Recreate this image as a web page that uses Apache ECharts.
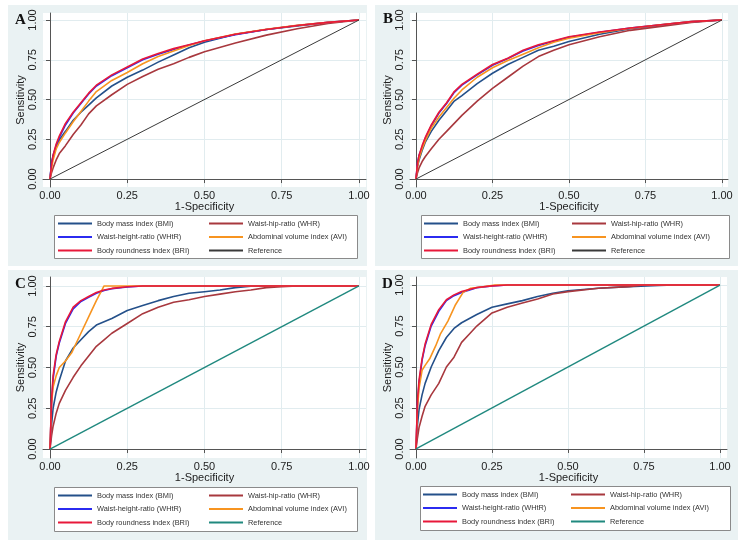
<!DOCTYPE html>
<html>
<head>
<meta charset="utf-8">
<script src="https://cdn.jsdelivr.net/npm/echarts@6/dist/echarts.min.js"></script>
<style>
  body { margin: 0; background: #fff; }
  #chart { width: 743px; height: 549px; }
</style>
</head>
<body>
<div id="chart"></div>
<script>
  // ROC points [1-specificity, sensitivity]
  const A_BMI  = [[0,0],[0.005,0.1],[0.01,0.14],[0.02,0.2],[0.03,0.245],[0.05,0.30],[0.075,0.37],[0.1,0.42],[0.125,0.465],[0.15,0.51],[0.2,0.585],[0.25,0.64],[0.3,0.685],[0.35,0.735],[0.4,0.78],[0.45,0.825],[0.5,0.86],[0.6,0.91],[0.7,0.94],[0.8,0.963],[0.9,0.984],[1,1]];
  const A_WHR  = [[0,0],[0.005,0.04],[0.01,0.07],[0.02,0.12],[0.03,0.16],[0.05,0.21],[0.075,0.28],[0.1,0.34],[0.125,0.41],[0.15,0.46],[0.2,0.53],[0.25,0.595],[0.3,0.645],[0.35,0.69],[0.4,0.725],[0.45,0.765],[0.5,0.80],[0.6,0.855],[0.7,0.905],[0.8,0.945],[0.9,0.978],[1,1]];
  const A_WHtR = [[0,0],[0.005,0.1],[0.01,0.15],[0.02,0.21],[0.03,0.26],[0.05,0.34],[0.075,0.415],[0.1,0.475],[0.125,0.535],[0.15,0.585],[0.2,0.65],[0.25,0.70],[0.3,0.75],[0.35,0.785],[0.4,0.815],[0.45,0.843],[0.5,0.868],[0.6,0.908],[0.7,0.94],[0.8,0.965],[0.9,0.985],[1,1]];
  const A_AVI  = [[0,0],[0.005,0.07],[0.01,0.12],[0.02,0.19],[0.03,0.23],[0.05,0.29],[0.075,0.36],[0.1,0.425],[0.125,0.49],[0.15,0.55],[0.2,0.62],[0.25,0.67],[0.3,0.725],[0.35,0.77],[0.4,0.805],[0.45,0.84],[0.5,0.87],[0.6,0.912],[0.7,0.942],[0.8,0.966],[0.9,0.985],[1,1]];
  const A_BRI  = [[0,0],[0.005,0.09],[0.01,0.15],[0.02,0.22],[0.03,0.27],[0.05,0.35],[0.075,0.42],[0.1,0.48],[0.125,0.54],[0.15,0.59],[0.2,0.655],[0.25,0.705],[0.3,0.755],[0.35,0.79],[0.4,0.82],[0.45,0.845],[0.5,0.87],[0.6,0.91],[0.7,0.94],[0.8,0.965],[0.9,0.985],[1,1]];

  const B_BMI  = [[0,0],[0.005,0.08],[0.01,0.12],[0.02,0.18],[0.03,0.23],[0.05,0.30],[0.075,0.37],[0.1,0.43],[0.125,0.49],[0.15,0.525],[0.2,0.60],[0.25,0.665],[0.3,0.72],[0.35,0.765],[0.4,0.81],[0.45,0.835],[0.5,0.865],[0.6,0.91],[0.7,0.945],[0.8,0.968],[0.9,0.988],[1,1]];
  const B_WHR  = [[0,0],[0.005,0.04],[0.01,0.07],[0.02,0.11],[0.03,0.14],[0.05,0.19],[0.075,0.25],[0.1,0.30],[0.125,0.35],[0.15,0.40],[0.2,0.49],[0.25,0.57],[0.3,0.64],[0.35,0.71],[0.4,0.77],[0.45,0.81],[0.5,0.845],[0.6,0.895],[0.7,0.935],[0.8,0.96],[0.9,0.985],[1,1]];
  const B_WHtR = [[0,0],[0.005,0.1],[0.01,0.15],[0.02,0.2],[0.03,0.255],[0.05,0.335],[0.075,0.415],[0.1,0.475],[0.125,0.545],[0.15,0.59],[0.2,0.655],[0.25,0.715],[0.3,0.758],[0.35,0.805],[0.4,0.84],[0.45,0.866],[0.5,0.892],[0.6,0.923],[0.7,0.949],[0.8,0.97],[0.9,0.99],[1,1]];
  const B_AVI  = [[0,0],[0.005,0.08],[0.01,0.13],[0.02,0.19],[0.03,0.24],[0.05,0.32],[0.075,0.39],[0.1,0.45],[0.125,0.51],[0.15,0.56],[0.2,0.64],[0.25,0.70],[0.3,0.745],[0.35,0.785],[0.4,0.825],[0.45,0.86],[0.5,0.885],[0.6,0.92],[0.7,0.948],[0.8,0.97],[0.9,0.99],[1,1]];
  const B_BRI  = [[0,0],[0.005,0.1],[0.01,0.15],[0.02,0.21],[0.03,0.26],[0.05,0.34],[0.075,0.42],[0.1,0.48],[0.125,0.55],[0.15,0.595],[0.2,0.66],[0.25,0.72],[0.3,0.76],[0.35,0.81],[0.4,0.845],[0.45,0.87],[0.5,0.895],[0.6,0.925],[0.7,0.95],[0.8,0.97],[0.9,0.99],[1,1]];

  const C_BMI  = [[0,0],[0.005,0.15],[0.01,0.25],[0.02,0.35],[0.03,0.42],[0.04,0.48],[0.05,0.54],[0.075,0.62],[0.1,0.67],[0.125,0.72],[0.15,0.76],[0.2,0.80],[0.25,0.85],[0.3,0.88],[0.35,0.91],[0.4,0.935],[0.45,0.955],[0.5,0.965],[0.55,0.975],[0.6,0.99],[0.65,0.998],[0.7,1],[1,1]];
  const C_WHR  = [[0,0],[0.005,0.08],[0.01,0.14],[0.02,0.22],[0.03,0.28],[0.05,0.36],[0.075,0.44],[0.1,0.51],[0.125,0.57],[0.15,0.63],[0.175,0.67],[0.2,0.71],[0.25,0.77],[0.3,0.83],[0.35,0.87],[0.4,0.90],[0.45,0.915],[0.5,0.935],[0.55,0.95],[0.6,0.965],[0.65,0.975],[0.7,0.99],[0.75,0.995],[0.8,1],[1,1]];
  const C_WHtR = [[0,0],[0.005,0.28],[0.01,0.43],[0.02,0.57],[0.03,0.65],[0.05,0.77],[0.075,0.86],[0.1,0.905],[0.125,0.93],[0.15,0.955],[0.175,0.972],[0.2,0.983],[0.25,0.994],[0.3,1],[1,1]];
  const C_AVI  = [[0,0],[0.005,0.28],[0.01,0.38],[0.02,0.45],[0.03,0.5],[0.05,0.54],[0.07,0.59],[0.1,0.71],[0.13,0.83],[0.15,0.91],[0.175,1],[1,1]];
  const C_BRI  = [[0,0],[0.005,0.3],[0.01,0.45],[0.02,0.58],[0.03,0.66],[0.05,0.78],[0.075,0.87],[0.1,0.91],[0.125,0.935],[0.15,0.96],[0.175,0.975],[0.2,0.985],[0.25,0.995],[0.3,1],[1,1]];

  const D_BMI  = [[0,0],[0.005,0.15],[0.01,0.24],[0.02,0.33],[0.03,0.40],[0.05,0.50],[0.075,0.60],[0.1,0.68],[0.125,0.735],[0.15,0.77],[0.2,0.82],[0.25,0.865],[0.3,0.885],[0.35,0.905],[0.4,0.93],[0.45,0.95],[0.5,0.965],[0.6,0.98],[0.7,0.99],[0.8,0.998],[0.85,1],[1,1]];
  const D_WHR  = [[0,0],[0.005,0.07],[0.01,0.13],[0.02,0.20],[0.03,0.26],[0.05,0.33],[0.075,0.40],[0.1,0.50],[0.125,0.56],[0.15,0.65],[0.175,0.70],[0.2,0.75],[0.25,0.83],[0.3,0.865],[0.35,0.89],[0.4,0.915],[0.45,0.945],[0.5,0.96],[0.6,0.98],[0.7,0.99],[0.75,1],[1,1]];
  const D_WHtR = [[0,0],[0.005,0.28],[0.01,0.4],[0.02,0.54],[0.03,0.63],[0.05,0.75],[0.075,0.84],[0.1,0.905],[0.125,0.935],[0.15,0.955],[0.2,0.983],[0.25,0.994],[0.3,1],[1,1]];
  const D_AVI  = [[0,0],[0.005,0.25],[0.01,0.37],[0.02,0.48],[0.03,0.51],[0.045,0.55],[0.065,0.63],[0.08,0.70],[0.105,0.78],[0.13,0.88],[0.155,0.955],[0.18,0.98],[0.22,0.99],[0.26,1],[1,1]];
  const D_BRI  = [[0,0],[0.005,0.3],[0.01,0.42],[0.02,0.55],[0.03,0.64],[0.05,0.76],[0.075,0.85],[0.1,0.91],[0.125,0.94],[0.15,0.96],[0.2,0.985],[0.25,0.995],[0.3,1],[1,1]];

  const REF = [[0,0],[1,1]];

  const names = ['Body mass index (BMI)', 'Waist-hip-ratio (WHR)', 'Waist-height-ratio (WHtR)',
                 'Abdominal volume index (AVI)', 'Body roundness index (BRI)', 'Reference'];
  const ticks = [0, 0.25, 0.5, 0.75, 1];
  const letters = ['A', 'B', 'C', 'D'];

  const panels = [
    [A_BMI, A_WHR, A_WHtR, A_AVI, A_BRI, REF],
    [B_BMI, B_WHR, B_WHtR, B_AVI, B_BRI, REF],
    [C_BMI, C_WHR, C_WHtR, C_AVI, C_BRI, REF],
    [D_BMI, D_WHR, D_WHtR, D_AVI, D_BRI, REF]
  ];

  const colors = ['#24508a', '#a8383e', '#2b2bf0', '#f79420', '#e8183a'];
  const refColors = ['#3a3a3a', '#3a3a3a', '#20897f', '#20897f'];

  // plot regions (white) and axis extents so that 0..1 lands where it does in the figure
  // box: legend frame [x, y, w, h]; cols: x of the two legend columns
  const layout = [
    { left: 43,  top: 13,  width: 323, height: 174, xmin: -0.0227, xmax: 1.0227, ymin: -0.050, ymax: 1.044,
      box: [54, 215, 303, 43], cols: [58, 209], lt: [15, 13], bg: [8, 5, 359, 261] },
    { left: 410, top: 13,  width: 318, height: 174, xmin: -0.0196, xmax: 1.0196, ymin: -0.050, ymax: 1.044,
      box: [421, 215, 308, 43], cols: [424, 572], lt: [383, 12], bg: [375, 5, 363, 261] },
    { left: 43,  top: 277, width: 323, height: 181, xmin: -0.0227, xmax: 1.0227, ymin: -0.055, ymax: 1.055,
      box: [54, 487, 303, 44], cols: [58, 209], lt: [15, 277], bg: [8, 270, 359, 270] },
    { left: 410, top: 277, width: 317, height: 181, xmin: -0.0197, xmax: 1.023,  ymin: -0.055, ymax: 1.049,
      box: [420, 486, 310, 44], cols: [423, 571], lt: [382, 277], bg: [375, 270, 363, 270] }
  ];

  const font = 'Liberation Sans, Arial, sans-serif';
  const chart = echarts.init(document.getElementById('chart'));

  const grid = [], xAxis = [], yAxis = [], series = [], legend = [], title = [], graphic = [];
  layout.forEach((g, p) => {
    graphic.push({ type: 'rect', z: -10, silent: true,
                   shape: { x: g.bg[0], y: g.bg[1], width: g.bg[2], height: g.bg[3] }, style: { fill: '#eaf2f3' } });
    graphic.push({ type: 'rect', z: -5, silent: true,
                   shape: { x: g.box[0] + 0.5, y: g.box[1] + 0.5, width: g.box[2], height: g.box[3] },
                   style: { fill: '#fff', stroke: '#8a8a8a', lineWidth: 1 } });
    grid.push({ left: g.left, top: g.top, width: g.width, height: g.height, show: true,
                backgroundColor: '#fff', borderWidth: 0, outerBoundsMode: 'none' });
    xAxis.push({
      type: 'value', gridIndex: p, min: g.xmin, max: g.xmax,
      name: '1-Specificity', nameLocation: 'middle', nameGap: 12,
      nameTextStyle: { fontSize: 11, color: '#222', fontFamily: font },
      axisLine: { show: true, lineStyle: { color: '#555', width: 1 } },
      axisTick: { show: true, length: 4, lineStyle: { color: '#555' }, customValues: ticks },
      axisLabel: { customValues: ticks, margin: 3, fontSize: 11, color: '#222', fontFamily: font,
                   formatter: v => v.toFixed(2) },
      splitLine: { show: true, lineStyle: { color: '#e1ecef', width: 1 } }
    });
    yAxis.push({
      type: 'value', gridIndex: p, min: g.ymin, max: g.ymax,
      name: 'Sensitivity', nameLocation: 'middle', nameGap: 14,
      nameTextStyle: { fontSize: 11, color: '#222', fontFamily: font },
      axisLine: { show: true, lineStyle: { color: '#555', width: 1 } },
      axisTick: { show: true, length: 4, lineStyle: { color: '#555' }, customValues: ticks },
      axisLabel: { customValues: ticks, rotate: 90, margin: 5, fontSize: 11, color: '#222', fontFamily: font,
                   formatter: v => v.toFixed(2) },
      splitLine: { show: true, lineStyle: { color: '#e1ecef', width: 1 } }
    });
    panels[p].forEach((d, k) => {
      const c = k < 5 ? colors[k] : refColors[p];
      series.push({
        type: 'line', name: names[k], xAxisIndex: p, yAxisIndex: p, data: d,
        symbol: 'none', showSymbol: false, silent: true, animation: false,
        color: c, lineStyle: { color: c, width: k < 5 ? 1.6 : (p < 2 ? 1 : 1.4) }
      });
    });
    // two legend columns per panel: left = BMI, WHtR, BRI; right = WHR, AVI, Reference
    [[0, 2, 4], [1, 3, 5]].forEach((idx, col) => {
      legend.push({
        left: g.cols[col], top: g.box[1] + 3, orient: 'vertical',
        padding: 0, itemGap: 2.5, itemWidth: 34, itemHeight: 2, icon: 'rect',
        selectedMode: false,
        textStyle: { fontSize: 7.4, color: '#333', fontFamily: font, lineHeight: 11 },
        data: idx.map(k => ({ name: names[k], itemStyle: { color: k < 5 ? colors[k] : refColors[p] } }))
      });
    });
    title.push({ text: letters[p], left: g.lt[0], top: g.lt[1], padding: 0,
                 textStyle: { fontFamily: 'Liberation Serif, Times New Roman, serif', fontWeight: 'bold', fontSize: 15, color: '#111' } });
  });

  chart.setOption({
    backgroundColor: '#fff',
    animation: false,
    graphic: graphic,
    title: title,
    grid: grid,
    xAxis: xAxis,
    yAxis: yAxis,
    legend: legend,
    series: series
  });
</script>
</body>
</html>
